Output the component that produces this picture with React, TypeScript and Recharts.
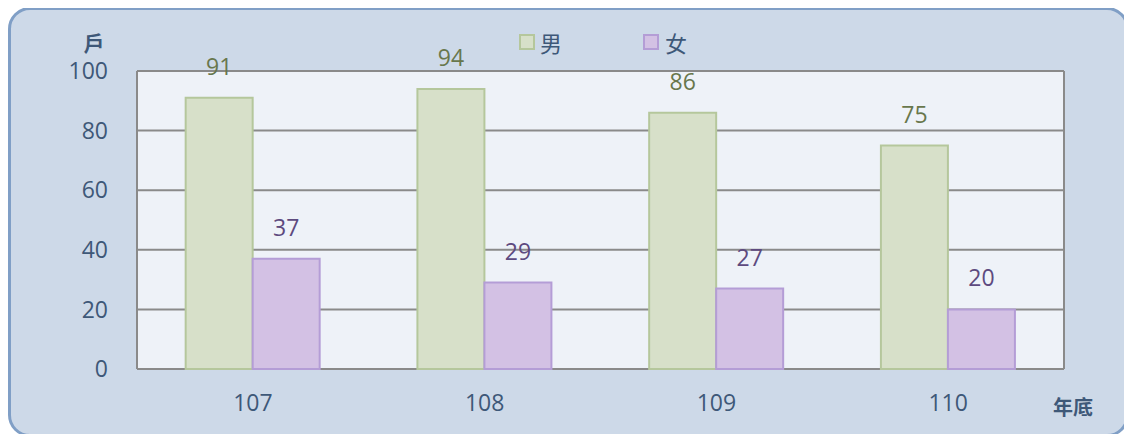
import React from 'react';
import { BarChart, Bar, XAxis, YAxis, CartesianGrid, LabelList } from 'recharts';

const categories = ['107', '108', '109', '110'];
const maleValues = [91, 94, 86, 75];
const femaleValues = [37, 29, 27, 20];
const yTicks = [0, 20, 40, 60, 80, 100];
const seriesNames = { male: '男', female: '女' };
const unitLabel = '戶';
const xUnitLabel = '年底';

const data = categories.map((c, i) => ({ year: c, male: maleValues[i], female: femaleValues[i] }));

const FONT = "'Open Sans', 'Noto Sans CJK TC', sans-serif";
const CJK = "'Noto Sans CJK TC', sans-serif";
const AXIS_COLOR = '#3e5878';

const LegendBox = () => (
  <div style={{ position: 'absolute', left: 0, top: 0 }}>
    <span style={{ position: 'absolute', left: 508, top: 24, width: 12, height: 12, background: '#d7e0c9', border: '2px solid #b5c79c' }} />
    <span style={{ position: 'absolute', left: 529, top: 17, fontFamily: CJK, fontSize: 22, lineHeight: '30px', color: AXIS_COLOR, whiteSpace: 'nowrap' }}>{seriesNames.male}</span>
    <span style={{ position: 'absolute', left: 632, top: 24, width: 12, height: 12, background: '#d3c1e4', border: '2px solid #b49dd6' }} />
    <span style={{ position: 'absolute', left: 654, top: 17, fontFamily: CJK, fontSize: 22, lineHeight: '30px', color: AXIS_COLOR, whiteSpace: 'nowrap' }}>{seriesNames.female}</span>
  </div>
);

const YUnit = (props: any) => {
  const vb = props.viewBox;
  return (
    <text x={vb.x + vb.width - 43} y={vb.y - 29} textAnchor="middle" dominantBaseline="central" fontFamily={CJK} fontSize={21} fontWeight={700} fill={AXIS_COLOR}>
      {unitLabel}
    </text>
  );
};

const XUnit = (props: any) => {
  const vb = props.viewBox;
  return (
    <text x={vb.x + vb.width + 9} y={vb.y + 37} textAnchor="middle" dominantBaseline="central" fontFamily={CJK} fontSize={20} fontWeight={700} fill={AXIS_COLOR}>
      {xUnitLabel}
    </text>
  );
};

export default function App() {
  return (
    <div style={{ position: 'relative', top: -1, width: 1121, height: 430, boxSizing: 'border-box', border: '3px solid #809fc6', borderRadius: 22, background: '#cdd9e8' }}>
      <LegendBox />
      <BarChart width={1115} height={424} data={data} margin={{ top: 61, right: 62, bottom: 15, left: 0 }} barGap={0} barCategoryGap="21%">
        <CartesianGrid
          vertical
          horizontal
          fill="#eef2f8"
          stroke="#8a8a8a"
          strokeWidth={2}
          verticalCoordinatesGenerator={(p: any) => [p.offset.left, p.offset.left + p.offset.width]}
        />
        <XAxis dataKey="year" axisLine={false} tickLine={false} tickSize={0} tickMargin={26} height={50}
          tick={{ fill: AXIS_COLOR, fontSize: 23, fontFamily: FONT }} label={<XUnit />} />
        <YAxis domain={[0, 100]} ticks={yTicks} axisLine={false} tickLine={false} tickSize={0} tickMargin={29} width={126}
          tick={{ fill: AXIS_COLOR, fontSize: 23, fontFamily: FONT }} label={<YUnit />} />
        <Bar dataKey="male" name={seriesNames.male} fill="#d7e0c9" stroke="#b5c79c" strokeWidth={2} isAnimationActive={false}>
          <LabelList dataKey="male" position="top" offset={23} fill="#68774c" fontSize={23} fontFamily={FONT} />
        </Bar>
        <Bar dataKey="female" name={seriesNames.female} fill="#d3c1e4" stroke="#b49dd6" strokeWidth={2} isAnimationActive={false}>
          <LabelList dataKey="female" position="top" offset={23} fill="#5d4a7f" fontSize={23} fontFamily={FONT} />
        </Bar>
      </BarChart>
    </div>
  );
}
